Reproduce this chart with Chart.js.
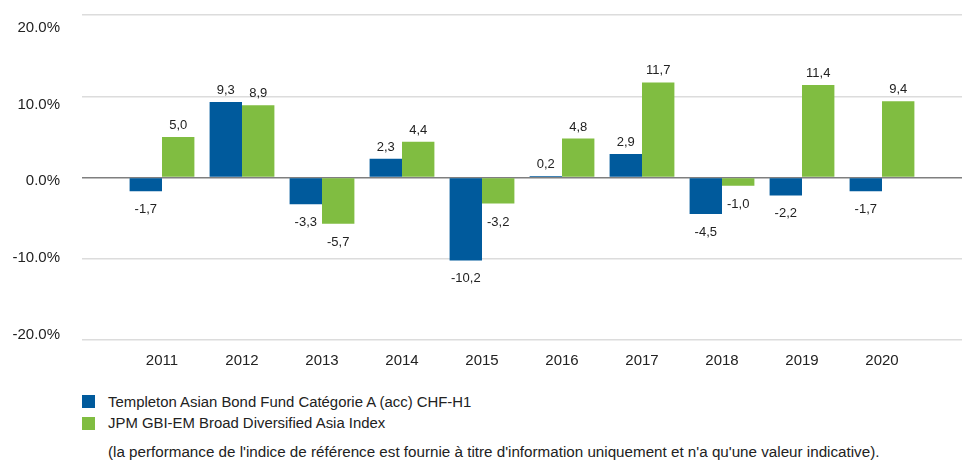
<!DOCTYPE html>
<html>
<head>
<meta charset="utf-8">
<script src="https://cdn.jsdelivr.net/npm/chart.js@4/dist/chart.umd.min.js"></script>
<style>
    body { margin: 0; background: #fff; font-family: "Liberation Sans", Arial, sans-serif; color: #222; }
    #wrap { position: relative; width: 962px; height: 461px; overflow: hidden; }
    #chartBox { position: absolute; left: 0; top: -16px; width: 962px; height: 390px; }
    #legend { position: absolute; left: 82px; top: 391px; font-size: 14.9px; }
    .item { display: flex; align-items: center; height: 21.5px; }
    .swatch { width: 13px; height: 13px; margin-right: 13px; }
    #note { position: absolute; left: 108px; top: 443px; font-size: 15.2px; white-space: nowrap; }
</style>
</head>
<body>
<div id="wrap">
    <div id="chartBox"><canvas id="perfChart"></canvas></div>
    <div id="legend"></div>
    <div id="note">(la performance de l'indice de référence est fournie à titre d'information uniquement et n'a qu'une valeur indicative).</div>
</div>
<script>
const years = [2011, 2012, 2013, 2014, 2015, 2016, 2017, 2018, 2019, 2020];
const fundValues = [-1.7, 9.3, -3.3, 2.3, -10.2, 0.2, 2.9, -4.5, -2.2, -1.7];
const indexValues = [5.0, 8.9, -5.7, 4.4, -3.2, 4.8, 11.7, -1.0, 11.4, 9.4];
const seriesNames = [
    "Templeton Asian Bond Fund Catégorie A (acc) CHF-H1",
    "JPM GBI-EM Broad Diversified Asia Index",
];
const seriesColors = ["#005a9c", "#80bd41"];
const yTicks = [-20, -10, 0, 10, 20];

const FONT = '"Liberation Sans", Arial, sans-serif';

// draws the value above / below each bar, comma decimal
const barLabels = {
    id: "barLabels",
    afterDatasetsDraw(chart) {
        const ctx = chart.ctx;
        ctx.save();
        ctx.font = "13px " + FONT;
        ctx.fillStyle = "#222";
        ctx.textAlign = "center";
        ctx.textBaseline = "alphabetic";
        chart.data.datasets.forEach((ds, i) => {
            const meta = chart.getDatasetMeta(i);
            meta.data.forEach((bar, j) => {
                const v = ds.data[j].y;
                const txt = v.toFixed(1).replace(".", ",");
                const y = v >= 0 ? bar.y - 8 : bar.y + 22;
                ctx.fillText(txt, bar.x, y);
            });
        });
        ctx.restore();
    },
};

function toPoints(values) {
    return values.map((v, i) => ({ x: years[i], y: v }));
}

const chart = new Chart(document.getElementById("perfChart"), {
    type: "bar",
    data: {
        datasets: [
            {
                label: seriesNames[0],
                data: toPoints(fundValues),
                backgroundColor: seriesColors[0],
                categoryPercentage: 0.81,
                barPercentage: 1,
            },
            {
                label: seriesNames[1],
                data: toPoints(indexValues),
                backgroundColor: seriesColors[1],
                categoryPercentage: 0.81,
                barPercentage: 1,
            },
        ],
    },
    options: {
        responsive: true,
        maintainAspectRatio: false,
        animation: false,
        layout: { padding: { top: 0, right: 0, bottom: 0, left: 0 } },
        plugins: {
            legend: { display: false },
            tooltip: { enabled: false },
        },
        scales: {
            x: {
                type: "linear",
                offset: false,
                min: 2010,
                max: 2021,
                grid: { display: false },
                border: { display: false },
                afterBuildTicks: (scale) => {
                    scale.ticks = years.map((y) => ({ value: y }));
                },
                ticks: {
                    autoSkip: false,
                    maxRotation: 0,
                    padding: 4,
                    color: "#222",
                    font: { family: FONT, size: 15 },
                    callback: (v) => String(v),
                },
            },
            // value axis: gridlines only
            y: {
                min: -20,
                max: 20,
                afterBuildTicks: (scale) => {
                    scale.ticks = yTicks.map((t) => ({ value: t }));
                },
                afterFit: (scale) => {
                    scale.width = 0;
                },
                grid: {
                    drawTicks: false,
                    lineWidth: 1.5,
                    color: (c) => (c.tick && c.tick.value === 0 ? "#7f7f7f" : "#dcdcdc"),
                },
                border: { display: false },
                ticks: { display: false },
            },
            // label axis: the original spreads its labels a bit tighter than the grid
            yl: {
                position: "left",
                min: -20.65,
                max: 21.65,
                afterBuildTicks: (scale) => {
                    scale.ticks = yTicks.map((t) => ({ value: t }));
                },
                afterFit: (scale) => {
                    scale.width = 82;
                },
                grid: { display: false, drawTicks: false },
                border: { display: false },
                ticks: {
                    padding: 22,
                    color: "#222",
                    font: { family: FONT, size: 15 },
                    callback: (v) => v.toFixed(1) + "%",
                },
            },
        },
    },
    plugins: [barLabels],
});

// legend built from the chart datasets
const legendEl = document.getElementById("legend");
chart.data.datasets.forEach((ds) => {
    const row = document.createElement("div");
    row.className = "item";
    row.innerHTML = `<span class="swatch" style="background:${ds.backgroundColor}"></span><span>${ds.label}</span>`;
    legendEl.appendChild(row);
});
</script>
</body>
</html>
